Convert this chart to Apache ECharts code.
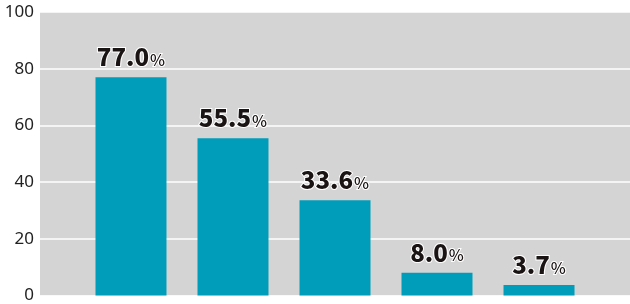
<!DOCTYPE html>
<html><head><meta charset="utf-8">
<script src="https://cdn.jsdelivr.net/npm/echarts@6/dist/echarts.min.js"></script>
<style>html,body{margin:0;padding:0;background:#fff}#c{width:630px;height:304px}</style>
</head><body><div id="c"></div>
<script>
const categories = ['A', 'B', 'C', 'D', 'E'];
const values = [77.0, 55.5, 33.6, 8.0, 3.7];
const yTicks = [0, 20, 40, 60, 80, 100];

const chart = echarts.init(document.getElementById('c'));
chart.setOption({
  animation: false,
  grid: { left: 40, right: 0, top: 12, bottom: 8, show: true, backgroundColor: '#d4d4d4', borderWidth: 0 },
  xAxis: { type: 'value', min: -0.892, max: categories.length - 1 + 0.892, show: false },
  yAxis: {
    type: 'value', min: yTicks[0], max: yTicks[yTicks.length - 1], interval: 20,
    axisLine: { show: false }, axisTick: { show: false },
    axisLabel: { color: '#222', fontSize: 17, fontFamily: 'Noto Sans', margin: 6 },
    splitLine: { lineStyle: { color: '#ffffff', width: 1.5 } }
  },
  series: [{
    type: 'bar', barWidth: 71,
    itemStyle: { color: '#009dba' },
    data: values.map((v, i) => [i, v]),
    label: {
      show: true, position: 'top', distance: 8,
      formatter: p => '{n|' + p.value[1].toFixed(1) + '}{p|%}',
      rich: {
        n: { fontSize: 24, fontWeight: 900, color: '#1a1414', fontFamily: 'Noto Sans CJK JP', textBorderColor: '#fff', textBorderWidth: 2, lineHeight: 24 },
        p: { fontSize: 16, fontWeight: 500, color: '#1a1414', fontFamily: 'Noto Sans CJK JP', textBorderColor: '#fff', textBorderWidth: 2, padding: [5, 0, 0, 1], lineHeight: 24 }
      }
    }
  }]
});
</script></body></html>
